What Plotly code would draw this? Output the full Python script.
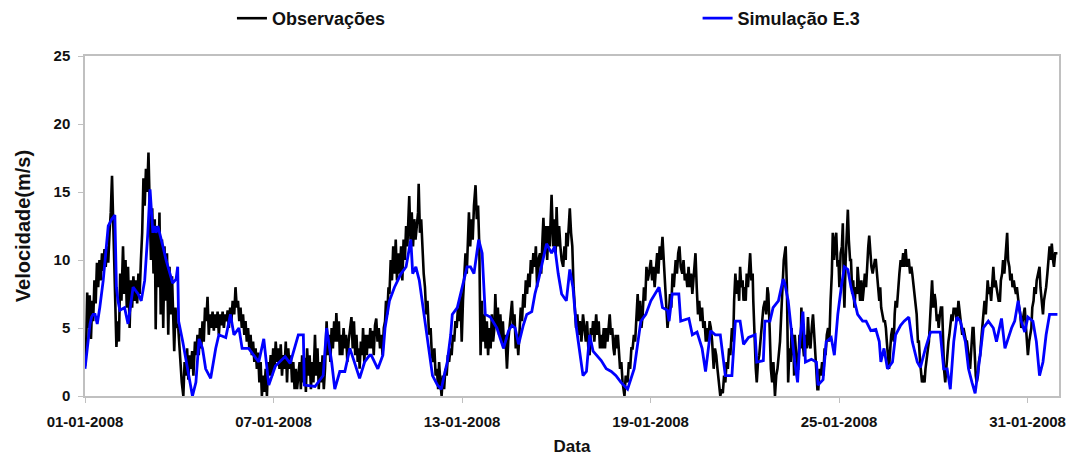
import pandas as pd
import plotly.graph_objects as go

# ---------------- data ----------------
# time is in days since 2008-01-01 00:00, speed in m/s
obs_day = [
    0.00, 0.04, 0.07, 0.11, 0.15, 0.19, 0.23, 0.26, 0.30, 0.34, 0.38, 0.42, 0.46, 0.50, 0.54, 0.58,
    0.62, 0.66, 0.70, 0.74, 0.78, 0.82, 0.86, 0.90, 0.94, 0.98, 1.00, 1.04, 1.08, 1.12, 1.16, 1.21,
    1.25, 1.29, 1.33, 1.37, 1.42, 1.46, 1.50, 1.54, 1.58, 1.62, 1.66, 1.70, 1.74, 1.78, 1.82, 1.86,
    1.90, 1.94, 1.98, 2.02, 2.06, 2.10, 2.14, 2.18, 2.22, 2.25, 2.29, 2.33, 2.37, 2.41, 2.45, 2.49,
    2.53, 2.57, 2.61, 2.65, 2.69, 2.73, 2.77, 2.81, 2.84, 2.88, 2.92, 2.96, 3.00, 3.04, 3.08, 3.13,
    3.17, 3.21, 3.25, 3.29, 3.33, 3.37, 3.41, 3.45, 3.50, 3.54, 3.58, 3.62, 3.66, 3.70, 3.74, 3.78,
    3.82, 3.86, 3.90, 3.94, 3.98, 4.02, 4.06, 4.10, 4.14, 4.18, 4.22, 4.26, 4.30, 4.34, 4.38, 4.42,
    4.46, 4.50, 4.54, 4.58, 4.62, 4.66, 4.70, 4.75, 4.79, 4.83, 4.87, 4.91, 4.95, 4.99, 5.03, 5.07,
    5.11, 5.15, 5.19, 5.23, 5.27, 5.31, 5.35, 5.39, 5.43, 5.47, 5.51, 5.55, 5.59, 5.63, 5.67, 5.71,
    5.75, 5.79, 5.83, 5.87, 5.91, 5.95, 5.99, 6.03, 6.07, 6.11, 6.15, 6.19, 6.23, 6.27, 6.31, 6.35,
    6.39, 6.43, 6.47, 6.51, 6.55, 6.59, 6.63, 6.67, 6.71, 6.75, 6.79,
    6.83, 6.87, 6.91, 6.95, 6.99, 7.03, 7.07, 7.11, 7.15, 7.19, 7.23, 7.27, 7.32, 7.36, 7.40, 7.44,
    7.48, 7.52, 7.56, 7.60, 7.64, 7.69, 7.73, 7.77, 7.81, 7.85, 7.89, 7.93, 7.97, 8.00, 8.04, 8.08,
    8.11, 8.15, 8.19, 8.23, 8.27, 8.31, 8.35, 8.39, 8.43, 8.48, 8.52, 8.56, 8.60, 8.64, 8.68, 8.72,
    8.74, 8.78, 8.82, 8.85, 8.89, 8.93, 8.97, 9.00, 9.04, 9.08, 9.11, 9.15, 9.19, 9.23, 9.27, 9.31,
    9.35, 9.39, 9.43, 9.47, 9.51, 9.55, 9.58, 9.62, 9.66, 9.69, 9.73, 9.77, 9.81, 9.85, 9.89, 9.93,
    9.97, 10.02, 10.06, 10.10, 10.14, 10.18, 10.22, 10.26, 10.30, 10.32, 10.36, 10.40, 10.44, 10.48,
    10.52, 10.56, 10.60, 10.62, 10.66, 10.70, 10.74, 10.78, 10.82, 10.86, 10.90, 10.95, 11.00, 11.04,
    11.08, 11.12, 11.16, 11.20, 11.24, 11.27, 11.31, 11.35, 11.39, 11.43, 11.47, 11.51, 11.55, 11.59,
    11.63, 11.67, 11.71, 11.75, 11.79, 11.83, 11.87, 11.91, 11.95, 11.99, 12.03, 12.07, 12.11, 12.15,
    12.19, 12.22, 12.26, 12.30, 12.34, 12.38, 12.43, 12.47, 12.51, 12.55, 12.59, 12.63, 12.67, 12.71,
    12.75, 12.79, 12.83, 12.87, 12.91, 12.95, 12.99, 13.03, 13.06, 13.10, 13.14, 13.18, 13.22, 13.26,
    13.30, 13.34, 13.38, 13.43, 13.47, 13.51, 13.55, 13.59, 13.63, 13.67, 13.71, 13.75, 13.79, 13.83,
    13.87, 13.91, 13.95, 13.99, 14.03, 14.07, 14.11, 14.15, 14.19, 14.23, 14.27, 14.31, 14.35,
    14.39, 14.43, 14.48, 14.52, 14.56, 14.59, 14.63, 14.67, 14.71, 14.75, 14.79, 14.85, 14.90, 14.94,
    14.98, 15.01, 15.05, 15.09, 15.13, 15.17, 15.22, 15.26, 15.30, 15.32, 15.36, 15.40, 15.43, 15.47,
    15.51, 15.55, 15.59, 15.63, 15.67, 15.71, 15.75, 15.80, 15.85, 15.90, 15.94, 15.98, 16.02, 16.06,
    16.10, 16.14, 16.17, 16.21, 16.27, 16.31, 16.35, 16.39, 16.43, 16.47, 16.51, 16.55, 16.59, 16.63,
    16.70, 16.74, 16.78, 16.82, 16.85, 16.89, 16.93, 16.96, 17.00, 17.03, 17.07, 17.11, 17.17, 17.21,
    17.27, 17.31, 17.35, 17.39, 17.43, 17.47, 17.51, 17.55, 17.59, 17.63, 17.67, 17.71, 17.75, 17.79,
    17.83, 17.87, 17.91, 17.95, 18.01, 18.05, 18.09, 18.13, 18.17, 18.21, 18.25, 18.29, 18.33, 18.38,
    18.42, 18.46, 18.50, 18.54, 18.58, 18.62, 18.66, 18.70, 18.74, 18.80, 18.84, 18.88, 18.92, 18.96,
    19.01, 19.05, 19.09, 19.13, 19.17, 19.21, 19.25, 19.29, 19.33, 19.37, 19.43, 19.47, 19.51, 19.55,
    19.59, 19.64, 19.68, 19.72, 19.76, 19.80, 19.84, 19.88, 19.92, 19.96, 20.01, 20.05, 20.09, 20.13,
    20.17, 20.22, 20.26, 20.30, 20.34, 20.38, 20.42, 20.46, 20.50, 20.54, 20.59, 20.63, 20.66, 20.70,
    20.74, 20.78, 20.82, 20.85, 20.89, 20.93, 20.96, 21.00, 21.03, 21.06, 21.10, 21.14, 21.17, 21.21,
    21.25, 21.27, 21.31, 21.35, 21.38, 21.42, 21.46, 21.50, 21.54, 21.59, 21.64, 21.68, 21.72, 21.75,
    21.79, 21.83, 21.87, 21.91, 21.96, 22.00, 22.04, 22.08, 22.12, 22.16, 22.20, 22.24, 22.27, 22.30,
    22.34, 22.38, 22.42, 22.46, 22.49, 22.52, 22.54, 22.57, 22.59, 22.63, 22.67, 22.70, 22.74, 22.78,
    22.80, 22.84, 22.88, 22.91, 22.95, 22.98, 23.01, 23.05, 23.09, 23.13, 23.17, 23.21, 23.25, 23.28,
    23.31, 23.34, 23.38, 23.42, 23.46, 23.50, 23.54, 23.57, 23.61, 23.65, 23.69, 23.73, 23.77, 23.80,
    23.84, 23.88, 23.91, 23.95, 23.98, 24.01, 24.05, 24.09, 24.12, 24.15, 24.17, 24.21, 24.24, 24.28,
    24.31, 24.35, 24.38, 24.42, 24.45, 24.49, 24.53, 24.57, 24.59, 24.63, 24.67, 24.71, 24.75, 24.79,
    24.82, 24.86, 24.90, 24.93, 24.96, 25.00, 25.03, 25.07, 25.10, 25.14, 25.17, 25.21, 25.24, 25.28,
    25.31, 25.34, 25.38, 25.42, 25.46, 25.49, 25.52, 25.56, 25.59, 25.63, 25.66, 25.70, 25.74, 25.77,
    25.80, 25.84, 25.88, 25.92, 25.96, 26.00, 26.04, 26.07, 26.12, 26.16, 26.19, 26.22, 26.26, 26.30,
    26.33, 26.37, 26.40, 26.43, 26.47, 26.51, 26.54, 26.58, 26.61, 26.64, 26.68, 26.72, 26.75, 26.79,
    26.83, 26.86, 26.90, 26.93, 26.96, 27.00, 27.04, 27.07, 27.11, 27.14, 27.17, 27.21, 27.24, 27.28,
    27.31, 27.34, 27.38, 27.41, 27.44, 27.48, 27.51, 27.54, 27.58, 27.61, 27.65, 27.68, 27.70, 27.74,
    27.77, 27.80, 27.84, 27.88, 27.92, 27.96, 28.00, 28.04, 28.07, 28.11, 28.14, 28.17, 28.21, 28.25,
    28.28, 28.31, 28.35, 28.38, 28.42, 28.45, 28.49, 28.52, 28.56, 28.59, 28.63, 28.67, 28.70, 28.73,
    28.77, 28.80, 28.84, 28.88, 28.91, 28.95, 28.98, 29.01, 29.05, 29.08, 29.12, 29.15, 29.19, 29.22,
    29.26, 29.30, 29.35, 29.38, 29.42, 29.45, 29.49, 29.52, 29.56, 29.59, 29.63, 29.66, 29.70, 29.73,
    29.77, 29.80, 29.84, 29.88, 29.91, 29.95, 29.98, 30.01, 30.05, 30.08, 30.12, 30.15, 30.19, 30.22,
    30.26, 30.29, 30.33, 30.38, 30.41, 30.45, 30.49, 30.52, 30.56, 30.59, 30.63, 30.67, 30.70, 30.74,
    30.77, 30.81, 30.84, 30.88, 30.91, 30.95,
]
obs_speed = [
    2.2, 4.0, 7.6, 5.0, 7.4, 4.2, 7.0, 5.5, 8.5, 6.8, 9.8, 8.0, 10.0, 8.5, 10.5, 9.2,
    10.8, 9.5, 11.0, 9.8, 12.0, 13.5, 16.2, 12.5, 8.0, 4.5, 3.6, 5.5, 4.0, 9.0, 7.0, 11.0,
    7.5, 10.0, 6.5, 9.5, 5.0, 8.5, 6.5, 8.8, 7.0, 8.5, 6.8, 9.0, 7.5, 10.0, 12.0, 16.0,
    14.0, 16.7, 15.0, 17.9, 12.5, 10.0, 13.8, 9.0, 13.0, 4.9, 12.5, 8.0, 13.5, 6.0, 11.5, 5.0,
    11.0, 7.0, 10.5, 4.5, 9.5, 6.0, 8.8, 5.0, 3.3, 6.5, 5.0, 5.3, 4.0, 2.0, 1.0, 0.0,
    2.5, 1.5, 3.5, 1.2, 3.0, 2.0, 3.3, 1.5, 4.0, 3.0, 4.5, 3.0, 5.0, 3.5, 5.5, 4.0,
    6.5, 5.5, 7.3, 4.5, 6.0, 5.0, 6.2, 4.8, 6.0, 5.0, 6.2, 4.5, 6.0, 5.2, 6.2, 5.0,
    6.0, 5.5, 6.3, 5.0, 6.5, 5.5, 7.0, 6.0, 8.0, 6.5, 7.0, 5.5, 6.5, 5.0, 6.0, 4.5,
    5.5, 4.0, 5.0, 3.5, 4.5, 3.0, 4.0, 2.5, 3.5, 2.0, 3.2, 1.0, 2.5, 0.0, 1.5, 0.3,
    2.0, 0.0, 2.5, 1.5, 3.0, 1.5, 3.5, 2.0, 4.0, 2.5, 3.5, 2.0, 3.8, 1.5, 3.0, 2.0,
    4.0, 1.0, 3.5, 2.0, 3.0, 1.0, 2.5, 0.5, 2.0, 0.5, 1.5,
    2.5, 0.5, 3.0, 1.0, 2.8, 0.3, 3.5, 1.5, 3.0, 0.5, 2.5, 1.0, 4.5, 1.5, 3.5, 0.5,
    2.5, 1.0, 3.0, 0.5, 2.0, 5.5, 3.0, 4.5, 2.5, 5.0, 3.5, 5.5, 4.0, 6.1, 4.0, 5.5,
    3.0, 4.5, 3.0, 5.0, 3.5, 4.5, 2.5, 4.0, 5.0, 5.8, 3.5, 5.5, 3.0, 4.5, 2.5, 3.5,
    2.0, 4.0, 3.0, 5.0, 2.5, 4.5, 3.0, 4.5, 3.5, 5.0, 3.5, 4.8, 3.0, 5.2, 5.7, 4.0,
    5.0, 3.5, 4.5, 3.0, 5.0, 5.5, 7.0, 6.0, 8.0, 7.5, 10.0, 8.5, 11.0, 9.0, 11.5, 8.5,
    10.5, 9.0, 11.0, 8.5, 11.5, 10.0, 12.5, 11.0, 13.5, 14.7, 11.5, 13.5, 11.0, 13.0,
    11.5, 12.5, 13.5, 15.6, 12.0, 13.0, 10.5, 9.0, 8.0, 6.0, 7.0, 4.5, 5.0, 3.0,
    2.5, 3.5, 1.5, 2.0, 0.5, 2.5, 1.0, 0.0, 1.5, 0.5, 2.0, 1.5, 3.0, 2.5,
    3.5, 3.0, 4.5, 4.0, 5.5, 5.0, 6.5, 5.5, 7.5, 4.0, 7.0, 9.0, 10.5, 9.0,
    12.0, 13.5, 11.0, 13.0, 11.5, 14.0, 15.5, 13.0, 14.0, 11.0, 3.0, 7.0, 4.0, 6.0,
    3.5, 5.5, 3.0, 5.0, 3.5, 6.0, 4.0, 5.0, 7.5, 5.0, 6.5, 4.5, 6.0, 4.0,
    5.5, 3.5, 4.5, 2.0, 4.0, 5.0, 6.5, 7.0, 5.0, 6.0, 3.5, 4.5, 3.0, 5.0,
    6.5, 5.5, 7.5, 6.5, 8.5, 7.5, 9.0, 8.0, 10.0, 9.0, 10.5, 9.5, 11.0,
    8.0, 10.0, 10.5, 9.0, 11.5, 13.1, 10.5, 12.5, 10.0, 12.5, 11.0, 14.8, 11.0, 13.0,
    10.5, 13.9, 11.0, 12.5, 11.0, 10.0, 9.5, 11.0, 10.0, 12.0, 11.0, 13.0, 13.8, 12.0,
    11.0, 8.0, 6.5, 5.0, 6.0, 4.5, 5.5, 4.0, 6.0, 5.0, 4.0, 5.5, 3.5, 3.0,
    5.0, 4.5, 5.5, 4.0, 6.0, 4.5, 5.5, 3.5, 4.5, 3.5, 5.0, 3.5, 5.0, 4.0,
    6.0, 4.5, 5.0, 3.5, 3.0, 4.5, 3.5, 4.5, 3.0, 2.0, 2.5, 1.0, 0.0, 1.5,
    1.0, 2.5, 2.0, 3.5, 3.5, 4.5, 4.0, 6.0, 7.5, 5.5, 7.0, 5.0, 6.0, 8.0,
    7.0, 9.5, 8.5, 9.0, 10.0, 8.5, 9.5, 8.0, 9.5, 10.5, 9.0, 11.0, 10.0, 11.7,
    10.0, 8.0, 6.5, 5.0, 6.0, 7.5, 6.5, 9.0, 8.0, 10.0, 9.0, 10.5, 11.0, 9.5,
    9.0, 10.0, 8.5, 9.0, 8.0, 9.5, 8.0, 9.0, 7.5, 9.0, 10.5, 8.0, 6.0, 7.0,
    5.5, 6.5, 5.0, 5.5, 4.0, 5.0, 4.0, 5.5, 5.0, 4.0, 2.0, 3.5, 3.0, 2.0,
    1.0, 0.0, 0.5, 0.2, 1.5, 1.0, 2.5, 2.0, 3.5, 3.0, 5.0, 4.0, 7.0, 9.0,
    7.5, 8.5, 7.0, 9.5, 8.0, 8.5, 7.0, 8.0, 7.0, 9.0, 8.0, 9.5, 10.5, 8.5,
    9.0, 7.0, 4.0, 2.0, 1.0, 2.5, 3.0, 4.0, 5.5, 6.5, 7.0, 6.0, 8.0, 7.5,
    5.0, 2.0, 1.0, 2.5, 0.0, 1.5, 2.0, 3.0, 4.0, 6.0, 8.5, 10.0, 10.5, 11.0,
    8.0, 1.0, 3.5, 2.5, 5.0, 3.0, 4.5, 1.5, 4.5, 3.0, 2.0, 2.0, 4.5, 3.5,
    6.5, 4.0, 3.0, 3.0, 4.5, 3.5, 5.8, 4.0, 3.5, 5.0, 6.0, 4.5, 3.0, 1.5,
    0.5, 0.5, 2.0, 1.5, 2.5, 1.5, 3.5, 3.0, 4.5, 5.0, 4.0, 7.0, 9.0, 12.0,
    10.0, 11.5, 12.0, 9.5, 10.0, 8.0, 10.5, 11.0, 12.7, 8.0, 6.5, 10.0, 11.5, 13.7,
    11.5, 10.0, 10.0, 7.5, 8.5, 6.5, 8.0, 7.5, 9.5, 8.0, 7.0, 8.5, 7.0, 8.0,
    9.0, 8.0, 10.0, 11.0, 11.8, 10.0, 9.5, 9.0, 9.5, 10.0, 10.0, 9.0, 8.0, 7.0,
    8.0, 6.5, 6.0, 5.5, 5.5, 5.0, 4.0, 3.0, 2.0, 3.5, 4.5, 5.0, 4.0, 6.0,
    7.0, 6.5, 8.0, 9.0, 10.0, 9.5, 10.5, 9.5, 10.8, 9.5, 10.0, 10.0, 9.0, 9.5,
    9.0, 8.0, 7.5, 7.0, 6.0, 4.0, 4.0, 2.5, 1.5, 1.0, 1.5, 1.0, 2.0, 3.0,
    3.5, 4.0, 5.5, 7.0, 8.5, 6.5, 7.5, 7.0, 5.5, 6.0, 5.0, 6.0, 6.5, 6.5,
    4.0, 2.0, 1.0, 2.0, 3.0, 4.0, 4.5, 5.0, 6.0, 5.5, 6.5, 6.0, 6.5, 5.5,
    6.0, 7.0, 6.0, 5.0, 4.5, 5.0, 4.5, 4.0, 4.0, 3.0, 2.5, 2.0, 3.5, 5.0,
    5.0, 3.0, 1.5, 1.0, 1.5, 2.5, 3.0, 4.0, 5.0, 5.5, 7.0, 6.0, 7.5, 8.5,
    7.5, 8.0, 7.0, 8.5, 9.5, 8.0, 8.5, 8.0, 7.5, 7.0, 7.0, 8.5, 9.0, 10.0,
    9.0, 10.5, 12.0, 10.0, 9.5, 8.5, 9.0, 8.0, 8.5, 8.0, 7.5, 8.0, 7.0, 6.5,
    6.0, 5.0, 5.5, 6.0, 6.5, 5.0, 4.0, 3.0, 4.0, 4.5, 5.0, 6.5, 7.0, 8.0,
    7.5, 8.5, 9.0, 9.5, 8.0, 7.0, 6.0, 7.0, 7.5, 8.0, 9.0, 10.0, 11.0, 10.0,
    11.2, 10.0, 9.5, 10.5, 10.5, 10.5,
]

sim_day = [
    0.00, 0.16, 0.21, 0.26, 0.32, 0.39, 0.47, 0.58, 0.74, 0.85, 0.95, 1.00, 1.05, 1.11, 1.26, 1.37,
    1.53, 1.69, 1.79, 1.90, 2.00, 2.07, 2.16, 2.21, 2.26, 2.32, 2.48, 2.58, 2.79, 2.90, 2.95, 2.98,
    3.11, 3.27, 3.42, 3.53, 3.63, 3.74, 3.84, 4.00, 4.16, 4.26, 4.48, 4.63, 4.74, 4.90, 5.00, 5.21,
    5.37, 5.53, 5.69, 5.74, 5.85, 6.06, 6.37, 6.53, 6.79, 6.95, 6.98, 7.32, 7.58, 7.69, 7.85, 7.95,
    8.11, 8.27, 8.43, 8.53, 8.74, 8.90, 9.06, 9.11, 9.32, 9.48, 9.55, 9.69, 9.85, 10.06, 10.22, 10.37,
    10.43, 10.53, 10.64, 10.79, 10.95, 11.06, 11.22, 11.34, 11.43, 11.53, 11.64, 11.69, 11.85, 12.06,
    12.16, 12.27, 12.38, 12.53, 12.64, 12.74, 12.90, 13.11, 13.32, 13.48, 13.59, 13.69, 13.80, 13.95,
    14.06, 14.22, 14.32, 14.43, 14.53, 14.69, 14.85, 14.95, 15.06, 15.17, 15.32, 15.43, 15.53, 15.64,
    15.85, 15.96, 16.06, 16.17, 16.43, 16.59, 16.75, 16.90, 17.06, 17.27, 17.48, 17.64, 17.69, 17.85,
    18.01, 18.27, 18.38, 18.54, 18.59, 18.69, 18.90, 18.96, 19.22, 19.33, 19.48, 19.64, 19.75, 19.91,
    20.06, 20.22, 20.38, 20.59, 20.70, 20.85, 20.96, 21.12, 21.33, 21.38, 21.59, 21.64, 21.80, 21.90,
    22.07, 22.22, 22.27, 22.38, 22.49, 22.59, 22.68, 22.75, 22.85, 22.93, 23.12, 23.28, 23.33, 23.49,
    23.59, 23.75, 23.85, 23.96, 24.07, 24.17, 24.28, 24.38, 24.49, 24.59, 24.75, 24.86, 25.01, 25.17,
    25.28, 25.33, 25.43, 25.54, 25.70, 25.80, 25.96, 26.07, 26.22, 26.33, 26.49, 26.59, 26.75, 26.91,
    27.07, 27.22, 27.33, 27.44, 27.54, 27.65, 27.75, 27.86, 28.02, 28.12, 28.23, 28.33, 28.49, 28.59,
    28.75, 28.91, 29.01, 29.17, 29.28, 29.49, 29.59, 29.70, 29.80, 29.91, 30.01, 30.17, 30.28, 30.38,
    30.49, 30.59, 30.70, 30.81, 30.95,
]
sim_speed = [
    2.0, 5.3, 5.8, 6.0, 6.0, 5.3, 6.5, 8.5, 12.5, 13.0, 13.3, 8.0, 7.0, 6.3, 6.5, 5.3,
    8.0, 7.5, 7.0, 8.5, 12.0, 15.2, 12.0, 12.5, 12.0, 12.5, 11.0, 10.0, 8.3, 8.6, 9.5, 5.5,
    4.0, 2.0, 0.0, 1.0, 4.2, 3.5, 2.0, 1.3, 3.5, 4.5, 4.3, 6.0, 4.5, 5.0, 3.5, 3.5,
    3.0, 2.5, 4.2, 3.0, 0.8, 2.2, 2.9, 2.4, 4.5, 4.5, 0.8, 0.7, 1.5, 5.0, 2.5, 0.5,
    1.8, 1.8, 3.5, 2.8, 1.3, 2.5, 3.0, 3.0, 2.0, 3.0, 5.0, 7.0, 8.0, 9.0, 9.5, 11.5,
    9.0, 9.5, 8.5, 6.0, 3.5, 1.5, 0.8, 0.5, 1.5, 2.5, 4.5, 6.0, 6.5, 8.5,
    9.5, 9.5, 9.0, 11.5, 10.5, 6.0, 5.8, 5.0, 3.5, 4.8, 5.2, 5.0, 3.8, 5.2,
    6.0, 6.2, 7.5, 8.5, 9.6, 11.2, 10.5, 11.0, 9.0, 7.5, 7.0, 9.3, 8.0, 5.0,
    1.5, 1.8, 4.5, 3.3, 2.6, 2.0, 1.8, 1.5, 1.0, 0.5, 2.0, 5.0, 5.5, 6.0,
    7.0, 8.0, 6.5, 6.3, 5.5, 7.5, 7.5, 5.5, 5.7, 4.5, 4.7, 3.5, 1.8, 4.8,
    4.5, 4.5, 1.5, 1.5, 5.5, 5.5, 3.8, 4.3, 4.5, 2.5, 2.6, 5.5, 5.5, 6.5,
    7.0, 8.6, 8.3, 7.0, 4.5, 2.5, 1.0, 4.0, 6.2, 2.5, 2.7, 2.5, 0.8, 1.2,
    4.0, 4.3, 3.0, 6.0, 8.0, 9.5, 9.3, 8.0, 7.0, 6.0, 5.5, 5.5, 4.8, 4.9,
    4.0, 2.5, 3.5, 2.0, 2.5, 4.5, 5.2, 5.5, 5.8, 4.0, 2.5, 2.1, 3.5, 4.7,
    4.7, 4.7, 2.0, 2.0, 0.5, 4.0, 5.8, 5.5, 4.0, 2.0, 1.0, 0.2, 3.0, 5.0,
    5.5, 5.0, 4.0, 5.7, 3.5, 5.0, 5.5, 7.0, 5.5, 4.7, 5.8, 5.5, 4.0, 1.5,
    2.5, 4.5, 6.0, 6.0, 6.0,
]

series_names = ["Observações", "Simulação E.3"]
y_ticks = [0, 5, 10, 15, 20, 25]

start = pd.Timestamp("2008-01-01")
obs_time = start + pd.to_timedelta(obs_day, unit="D")
sim_time = start + pd.to_timedelta(sim_day, unit="D")

grey = "#c0c0c0"
font_family = "Liberation Sans, Arial, Helvetica, sans-serif"

fig = go.Figure()
fig.add_trace(go.Scatter(x=obs_time, y=obs_speed, mode="lines", name=series_names[0],
                         legend="legend",
                         line=dict(color="#000000", width=2.6)))
fig.add_trace(go.Scatter(x=sim_time, y=sim_speed, mode="lines", name=series_names[1],
                         legend="legend2",
                         line=dict(color="#0000ff", width=2.8)))

legend_common = dict(orientation="h", xanchor="left", yanchor="top",
                     yref="container", y=1.0,
                     font=dict(size=18, weight="bold", color="#111111"),
                     bgcolor="rgba(0,0,0,0)")

fig.update_layout(
    width=1075, height=462,
    margin=dict(l=85, r=9, t=56, b=65),
    paper_bgcolor="white", plot_bgcolor="white",
    font=dict(family=font_family, size=15, color="#111111", weight="bold"),
    showlegend=True,
    legend=dict(x=(233 - 85) / 981, **legend_common),
    legend2=dict(x=(702 - 85) / 981, **legend_common),
)
fig.update_xaxes(
    type="date",
    range=[start, start + pd.Timedelta(days=31)],
    tick0=start, dtick=6 * 86400000, tickformat="%d-%m-%Y",
    ticks="outside", ticklen=5, tickcolor=grey, tickwidth=1,
    showline=True, linecolor=grey, linewidth=1.5, mirror=True,
    showgrid=False, zeroline=False,
    ticklabelstandoff=6,
    title=dict(text="Data", font=dict(size=17, weight="bold"), standoff=11),
)
fig.update_yaxes(
    range=[0, 25], tickvals=y_ticks,
    ticks="outside", ticklen=5, tickcolor=grey, tickwidth=1,
    showline=True, linecolor=grey, linewidth=1.5, mirror=True,
    showgrid=False, zeroline=False,
    ticklabelstandoff=5,
    title=dict(text="Velocidade(m/s)", font=dict(size=20, weight="bold"), standoff=18),
)

fig.write_html("out.html")
